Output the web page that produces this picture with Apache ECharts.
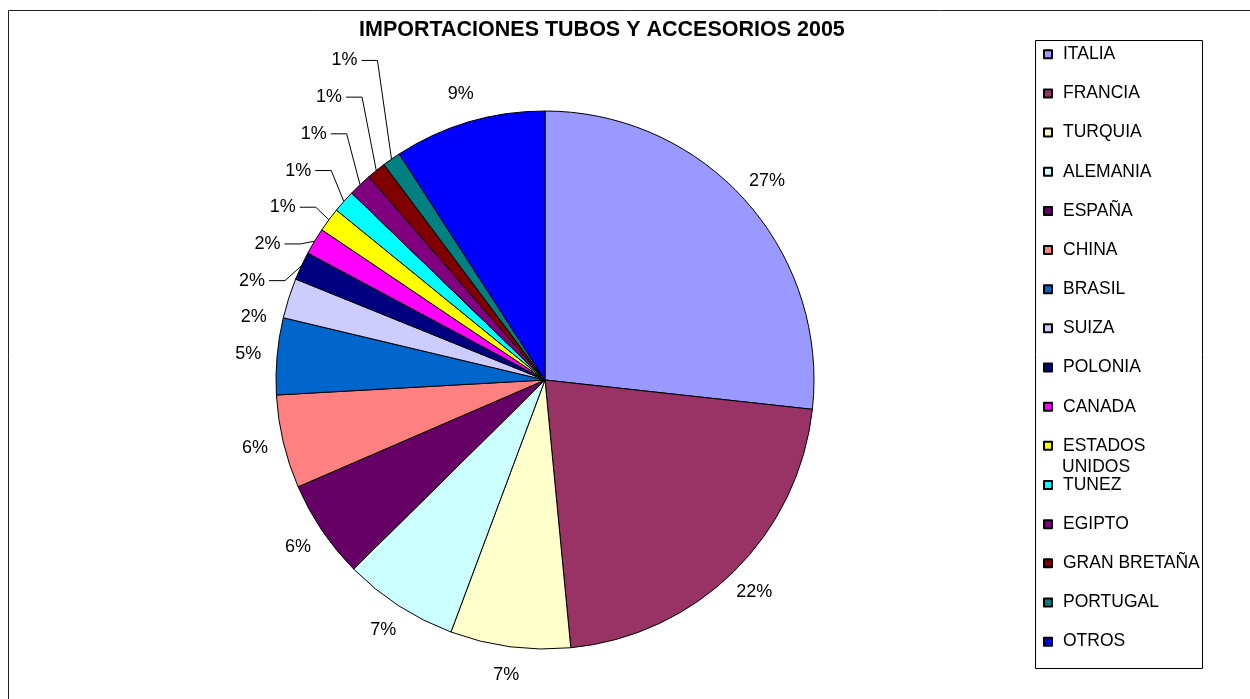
<!DOCTYPE html>
<html>
<head>
<meta charset="utf-8">
<title>Importaciones tubos y accesorios 2005</title>
<script src="https://cdn.jsdelivr.net/npm/echarts@6/dist/echarts.min.js"></script>
<style>
    html, body { margin: 0; padding: 0; background: #fff; }
    #main { width: 1250px; height: 699px; }
</style>
</head>
<body>
<div id="main"></div>
<script>
// datos (participacion en %)
var paises = ['ITALIA', 'FRANCIA', 'TURQUIA', 'ALEMANIA', 'ESPAÑA', 'CHINA', 'BRASIL', 'SUIZA',
    'POLONIA', 'CANADA', 'ESTADOS UNIDOS', 'TUNEZ', 'EGIPTO', 'GRAN BRETAÑA', 'PORTUGAL', 'OTROS'];
var valores = [26.7, 21.7, 7.2, 6.9, 5.9, 5.6, 4.6, 2.4, 1.7, 1.6, 1.45, 1.35, 1.4, 1.15, 1.1, 9.1];
var colores = ['#9999FF', '#993366', '#FFFFCC', '#CCFFFF', '#660066', '#FF8080', '#0066CC', '#CCCCFF',
    '#000080', '#FF00FF', '#FFFF00', '#00FFFF', '#800080', '#800000', '#008080', '#0000FF'];

var fuente = 'Liberation Sans, Arial, sans-serif';
var centro = [545, 380];
var radio = 269;
var radioEtiqueta = radio + 29;
var pasoChicas = 36.7;

var chart = echarts.init(document.getElementById('main'));

var total = valores.reduce(function (a, b) { return a + b; }, 0);

// las porciones chicas llevan linea guia, como en el original
function esChica(i) {
    return valores[i] < 2;
}

// angulo medio de cada porcion (desde arriba, sentido horario)
var angulos = [];
var acum = 0;
valores.forEach(function (v) {
    angulos.push(2 * Math.PI * (acum + v / 2) / total);
    acum += v;
});

// las etiquetas chicas se apilan en escalera, centradas en su altura natural
var chicas = [];
var ySuma = 0;
valores.forEach(function (v, i) {
    if (esChica(i)) {
        chicas.push(i);
        ySuma += centro[1] - (radio + 55) * Math.cos(angulos[i]);
    }
});
var yBase = ySuma / chicas.length + (chicas.length - 1) / 2 * pasoChicas;
var anterior = chicas[0] - 1; // la porcion justo debajo de la escalera (SUIZA)

var datos = paises.map(function (p, i) {
    if (esChica(i)) {
        return { name: p, value: valores[i], labelLine: { show: true } };
    }
    return { name: p, value: valores[i], labelLine: { show: false } };
});

function ubicarEtiqueta(params) {
    var i = params.dataIndex;
    var k = chicas.indexOf(i);
    var a = angulos[i];
    if (k >= 0) {
        var y = yBase - k * pasoChicas;
        var xFin = centro[0] - radio - 11 + 0.42 * (yBase - y);
        var borde = [centro[0] + radio * Math.sin(a), centro[1] - radio * Math.cos(a)];
        return {
            x: xFin,
            y: y,
            align: 'right',
            verticalAlign: 'middle',
            labelLinePoints: [borde, [xFin + 20, y], [xFin + 4, y]]
        };
    }
    if (i === anterior) {
        var dy = pasoChicas;
        var yS = yBase + dy;
        var dyc = yS - centro[1];
        return {
            x: centro[0] - Math.sqrt(radioEtiqueta * radioEtiqueta - dyc * dyc),
            y: yS,
            align: 'center',
            verticalAlign: 'middle'
        };
    }
    return {
        x: centro[0] + radioEtiqueta * Math.sin(a),
        y: centro[1] - radioEtiqueta * Math.cos(a),
        align: 'center',
        verticalAlign: 'middle'
    };
}

var option = {
    color: colores,
    animation: false,
    title: {
        text: 'IMPORTACIONES TUBOS Y ACCESORIOS 2005',
        left: 359,
        top: 19,
        padding: 0,
        textStyle: { fontFamily: fuente, fontSize: 21.5, fontWeight: 'bold', color: '#000' }
    },
    legend: {
        orient: 'vertical',
        left: 1043,
        top: 45.25,
        padding: 0,
        itemWidth: 8,
        itemHeight: 8,
        itemGap: 21.16,
        icon: 'rect',
        selectedMode: false,
        data: paises,
        formatter: function (name) {
            return name === 'ESTADOS UNIDOS' ? 'ESTADOS' : name;
        },
        textStyle: { fontFamily: fuente, fontSize: 17.5, lineHeight: 17.5, color: '#000', padding: [0, 0, 0, 6] }
    },
    graphic: [
        { type: 'rect', shape: { x: 8.5, y: 10.5, width: 1300, height: 720 },
          style: { fill: 'none', stroke: '#222', lineWidth: 1 }, silent: true },
        { type: 'rect', shape: { x: 1035.5, y: 40.5, width: 167, height: 628 },
          style: { fill: 'none', stroke: '#000', lineWidth: 1 }, silent: true },
        { type: 'text', x: 1062, y: 467.5,
          style: { text: 'UNIDOS', font: '17.5px ' + fuente, fill: '#000', verticalAlign: 'middle' } }
    ],
    series: [{
        name: 'Importaciones',
        type: 'pie',
        center: centro,
        radius: radio,
        startAngle: 90,
        clockwise: true,
        avoidLabelOverlap: false,
        itemStyle: { borderColor: '#000', borderWidth: 1 },
        label: {
            show: true,
            position: 'outside',
            fontFamily: fuente,
            fontSize: 18,
            color: '#000',
            formatter: function (p) {
                return Math.round(p.percent) + '%';
            }
        },
        labelLine: { length: 16, length2: 16, lineStyle: { color: '#000', width: 1 } },
        labelLayout: ubicarEtiqueta,
        emphasis: { disabled: true },
        data: datos
    }]
};

chart.setOption(option);
</script>
</body>
</html>
